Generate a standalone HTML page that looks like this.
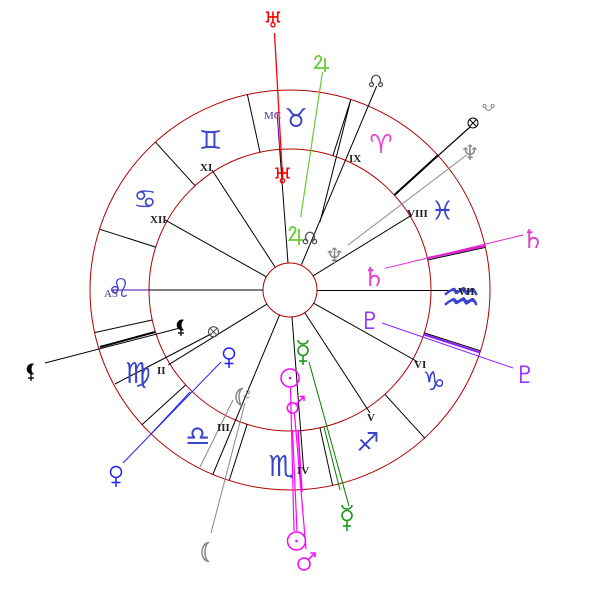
<!DOCTYPE html>
<html><head><meta charset="utf-8">
<style>
html,body{margin:0;padding:0;background:#fff;}
svg{display:block;}
.g{font-family:"DejaVu Sans",sans-serif;text-anchor:middle;dominant-baseline:central;}
.z{font-family:"DejaVu Sans",sans-serif;text-anchor:middle;dominant-baseline:central;font-size:26px;fill:#3a45c8;}
.r{font-family:"Liberation Serif",serif;font-weight:bold;font-size:11px;fill:#222;}
.p{font-family:"Liberation Serif",serif;font-size:11px;fill:#50309a;}
</style></head><body>
<svg width="600" height="600" viewBox="0 0 600 600" xmlns="http://www.w3.org/2000/svg">
<rect width="600" height="600" fill="#fff"/>
<!-- circles -->
<g fill="none" stroke="#b00000" stroke-width="1">
<circle cx="290" cy="290" r="200"/>
<circle cx="290" cy="290" r="141"/>
<circle cx="290" cy="290" r="27"/>
</g>
<!-- sign boundaries -->
<g stroke="#000" stroke-width="1">
<line x1="427.8" y1="260.0" x2="485.4" y2="247.4"/>
<line x1="394.3" y1="195.1" x2="437.9" y2="155.4"/>
<line x1="332.9" y1="155.7" x2="350.8" y2="99.5"/>
<line x1="260.0" y1="152.2" x2="247.4" y2="94.6"/>
<line x1="195.1" y1="185.7" x2="155.4" y2="142.1"/>
<line x1="155.7" y1="247.1" x2="99.5" y2="229.2"/>
<line x1="152.2" y1="320.0" x2="94.6" y2="332.6"/>
<line x1="185.7" y1="384.9" x2="142.1" y2="424.6"/>
<line x1="247.1" y1="424.3" x2="229.2" y2="480.5"/>
<line x1="320.0" y1="427.8" x2="332.6" y2="485.4"/>
<line x1="384.9" y1="394.3" x2="424.6" y2="437.9"/>
<line x1="424.3" y1="332.9" x2="480.5" y2="350.8"/>
</g>
<!-- house cusps -->
<g stroke="#000" stroke-width="1">
<line x1="275.3" y1="267.4" x2="212.1" y2="170.1"/>
<line x1="266.4" y1="276.8" x2="165.2" y2="220.1"/>
<line x1="313" y1="275.9" x2="411.8" y2="215.1"/>
<line x1="267" y1="304.1" x2="168.2" y2="364.9"/>
<line x1="304.7" y1="312.6" x2="370" y2="413"/>
<line x1="313.6" y1="303.2" x2="418" y2="362"/>
<line x1="317" y1="290.5" x2="460" y2="290.5"/>
<line x1="292" y1="317" x2="303.5" y2="468"/>
<line x1="263" y1="290" x2="149" y2="290"/>
<line x1="288" y1="263.1" x2="279.7" y2="149.4"/>
<line x1="301.5" y1="264.5" x2="376.7" y2="86"/>
<line x1="279.6" y1="314.9" x2="212.8" y2="474.5"/>
<line x1="320" y1="222" x2="350.8" y2="99.5"/>
</g>
<g stroke="#5500aa" stroke-width="1">
<line x1="149" y1="290" x2="111" y2="290"/>
<line x1="279.7" y1="149.4" x2="277" y2="112"/>
</g>
<!-- planet connector lines -->
<line x1="274.5" y1="33" x2="282" y2="168" stroke="#ff0000" stroke-width="1.3"/>
<line x1="322.5" y1="72" x2="300.7" y2="217" stroke="#66cc33" stroke-width="1.2"/>
<line x1="348" y1="245" x2="466.7" y2="155" stroke="#888" stroke-width="1"/>
<line x1="394.3" y1="195.1" x2="470" y2="127" stroke="#000" stroke-width="1.2"/>
<line x1="394.3" y1="195.1" x2="437.9" y2="155.4" stroke="#000" stroke-width="2"/>
<line x1="385" y1="268.3" x2="523" y2="235" stroke="#dd22cc" stroke-width="1"/>
<line x1="428" y1="258" x2="485" y2="246" stroke="#dd22cc" stroke-width="2.2"/>
<line x1="382" y1="323" x2="513" y2="368" stroke="#8a20ff" stroke-width="1"/>
<line x1="424" y1="334.5" x2="480" y2="352.5" stroke="#8a20ff" stroke-width="2"/>
<line x1="309" y1="362" x2="349" y2="506" stroke="#008000" stroke-width="1"/>
<line x1="324" y1="427" x2="340" y2="490" stroke="#008000" stroke-width="1"/>
<line x1="290.5" y1="388" x2="294" y2="531" stroke="#ff00ff" stroke-width="1.2"/>
<line x1="292.5" y1="430" x2="297" y2="531" stroke="#ff00ff" stroke-width="1.2"/>
<line x1="294.5" y1="414" x2="306" y2="549" stroke="#ff00ff" stroke-width="1.2"/>
<line x1="298" y1="430" x2="302" y2="492" stroke="#ff00ff" stroke-width="1.6"/>
<line x1="221" y1="362" x2="123" y2="463" stroke="#2020ff" stroke-width="1"/>
<line x1="190" y1="392" x2="151" y2="434" stroke="#2020ff" stroke-width="1"/>
<line x1="245" y1="403" x2="211" y2="533" stroke="#888" stroke-width="1"/>
<line x1="233" y1="400" x2="200" y2="467" stroke="#888" stroke-width="1"/>
<line x1="180" y1="328" x2="45" y2="363" stroke="#000" stroke-width="1"/>
<line x1="100" y1="347" x2="155" y2="332" stroke="#000" stroke-width="2"/>
<line x1="211" y1="334" x2="115" y2="384" stroke="#000" stroke-width="1"/>

<!-- zodiac signs -->
<text class="z" x="442.5" y="211.5">&#x2653;&#xFE0E;</text>
<text class="z" x="381" y="145" style="fill:#ee44cc">&#x2648;&#xFE0E;</text>
<text class="z" x="296" y="119">&#x2649;&#xFE0E;</text>
<text class="z" x="210.5" y="141">&#x264A;&#xFE0E;</text>
<text class="z" x="145" y="200">&#x264B;&#xFE0E;</text>
<text class="z" x="119" y="289">&#x264C;&#xFE0E;</text>
<text class="z" x="138" y="373" style="font-size:29px">&#x264D;&#xFE0E;</text>
<text class="z" x="197.5" y="436" style="font-size:28px">&#x264E;&#xFE0E;</text>
<text class="z" x="281.5" y="466" style="font-size:29px">&#x264F;&#xFE0E;</text>
<text class="z" x="368" y="443">&#x2650;&#xFE0E;</text>
<text class="z" x="434" y="382">&#x2651;&#xFE0E;</text>
<text class="z" x="0" y="0" transform="translate(461,297.5) scale(1.15,1.1)" style="font-size:40px">&#x2652;&#xFE0E;</text>

<!-- house labels -->
<text class="r" x="200" y="171">XI</text>
<text class="r" x="150" y="223">XII</text>
<text class="r" x="349" y="162">IX</text>
<text class="r" x="407" y="217">VIII</text>
<text class="r" x="458" y="295">VII</text>
<text class="r" x="414" y="368">VI</text>
<text class="r" x="367" y="421">V</text>
<text class="r" x="297" y="474">IV</text>
<text class="r" x="217" y="431">III</text>
<text class="r" x="157" y="374">II</text>
<text class="p" x="264" y="119">MC</text>
<text class="p" x="104" y="297">AS</text>

<!-- planet text glyphs -->
<text class="g" x="273" y="21" style="font-size:22px;fill:#ff0000">&#x2645;&#xFE0E;</text>
<text class="g" x="282.5" y="177" style="font-size:22px;fill:#ff0000">&#x2645;&#xFE0E;</text>
<text class="g" x="470" y="153" style="font-size:21px;fill:#888">&#x2646;&#xFE0E;</text>
<text class="g" x="334.5" y="256" style="font-size:21px;fill:#888">&#x2646;&#xFE0E;</text>
<text class="g" x="533" y="240" style="font-size:26px;fill:#e040c8">&#x2644;&#xFE0E;</text>
<text class="g" x="374" y="278" style="font-size:26px;fill:#e040c8">&#x2644;&#xFE0E;</text>
<text class="g" x="525" y="375" style="font-size:24px;fill:#9933ff">&#x2647;&#xFE0E;</text>
<text class="g" x="370" y="321" style="font-size:24px;fill:#9933ff">&#x2647;&#xFE0E;</text>

<!-- Jupiter -->
<g stroke="#66cc33" stroke-width="1.8" fill="none">
<path d="M315,60 C315,55 322,54 321,60 L315,68 L329,68 M325,58 L325,72"/>
<path d="M289.5,231 C289.5,226 296.5,225 295.5,231 L289.5,240 L303,240 M299,229 L299,245"/>
</g>
<!-- North node -->
<g stroke="#555" stroke-width="1.3" fill="none">
<path d="M373,84 A4.5,5 0 1 1 379,84"/>
<circle cx="371.5" cy="84.5" r="2"/>
<circle cx="380.5" cy="84.5" r="2"/>
<path d="M307,241 A4.5,5 0 1 1 313,241"/>
<circle cx="305.5" cy="241.5" r="2.2"/>
<circle cx="314.5" cy="241.5" r="2.2"/>
</g>
<!-- South node -->
<g stroke="#888" stroke-width="1" fill="none">
<path d="M485.5,107 A3,3.5 0 0 0 491.5,107"/>
<circle cx="484.5" cy="106" r="1.6"/>
<circle cx="492.5" cy="106" r="1.6"/>
<circle cx="248" cy="392" r="1.6"/>
<path d="M244,395 A3,3 0 0 0 249,397"/>
</g>
<!-- Moon -->
<g stroke="#888" stroke-width="1.5" fill="none">
<path d="M209,542.5 A7,9.5 0 1 0 209,561.5 A4,9.5 0 0 1 209,542.5 Z"/>
<path d="M243,388.5 A7,8.5 0 1 0 243,405.5 A4,8.5 0 0 1 243,388.5 Z"/>
</g>

<!-- Sun -->
<g stroke="#ff00ff" stroke-width="1.5" fill="none">
<circle cx="296.5" cy="541" r="9"/>
<circle cx="290" cy="378" r="9"/>
</g>
<circle cx="296.5" cy="541" r="1.3" fill="#ff00ff"/>
<circle cx="290" cy="378" r="1.3" fill="#ff00ff"/>
<!-- Mars -->
<g stroke="#ff00ff" stroke-width="1.5" fill="none">
<circle cx="292.5" cy="408" r="5.2"/>
<line x1="296.2" y1="404.3" x2="304" y2="396.5"/>
<polyline points="299.5,396.5 304,396.5 304,401"/>
<circle cx="304" cy="564" r="6"/>
<line x1="308.2" y1="559.8" x2="315" y2="553"/>
<polyline points="310.5,553 315,553 315,557.5"/>
</g>
<!-- Venus -->
<g stroke="#2020ff" stroke-width="1.5" fill="none">
<circle cx="116" cy="472" r="5.5"/>
<line x1="116" y1="477.5" x2="116" y2="487"/>
<line x1="111.5" y1="482.5" x2="120.5" y2="482.5"/>
<circle cx="229" cy="353.5" r="5.5"/>
<line x1="229" y1="359" x2="229" y2="368"/>
<line x1="224.5" y1="363.5" x2="233.5" y2="363.5"/>
</g>
<!-- Mercury -->
<g stroke="#1a9a1a" stroke-width="1.6" fill="none">
<path d="M342,505 A5,4 0 0 0 352,505"/>
<circle cx="347" cy="515.5" r="5"/>
<line x1="347" y1="520.5" x2="347" y2="531"/>
<line x1="343" y1="526" x2="351" y2="526"/>
<path d="M298,340 A5,4 0 0 0 308,340"/>
<circle cx="303" cy="350.5" r="5"/>
<line x1="303" y1="355.5" x2="303" y2="365"/>
<line x1="299" y1="361" x2="307" y2="361"/>
</g>
<!-- Part of fortune -->
<g stroke="#000" stroke-width="1" fill="none">
<circle cx="473" cy="123" r="5"/>
<line x1="469.5" y1="119.5" x2="476.5" y2="126.5"/>
<line x1="476.5" y1="119.5" x2="469.5" y2="126.5"/>
</g>
<g stroke="#444" stroke-width="1" fill="none">
<circle cx="213.5" cy="331.7" r="5"/>
<line x1="210" y1="328.2" x2="217" y2="335.2"/>
<line x1="217" y1="328.2" x2="210" y2="335.2"/>
</g>
<!-- Lilith -->
<path d="M34.5,364 A5.5,5.5 0 1 0 34.5,374 A3,5 0 0 1 34.5,364 Z" fill="#000"/>
<g stroke="#000" stroke-width="1.3">
<line x1="31" y1="374" x2="31" y2="381"/>
<line x1="28" y1="378" x2="34" y2="378"/>
</g>
<path d="M184.5,320 A5.5,5.5 0 1 0 184.5,330 A3,5 0 0 1 184.5,320 Z" fill="#000"/>
<g stroke="#000" stroke-width="1.3">
<line x1="181" y1="329" x2="181" y2="336"/>
<line x1="178" y1="333" x2="184" y2="333"/>
</g>
</svg>
</body></html>
